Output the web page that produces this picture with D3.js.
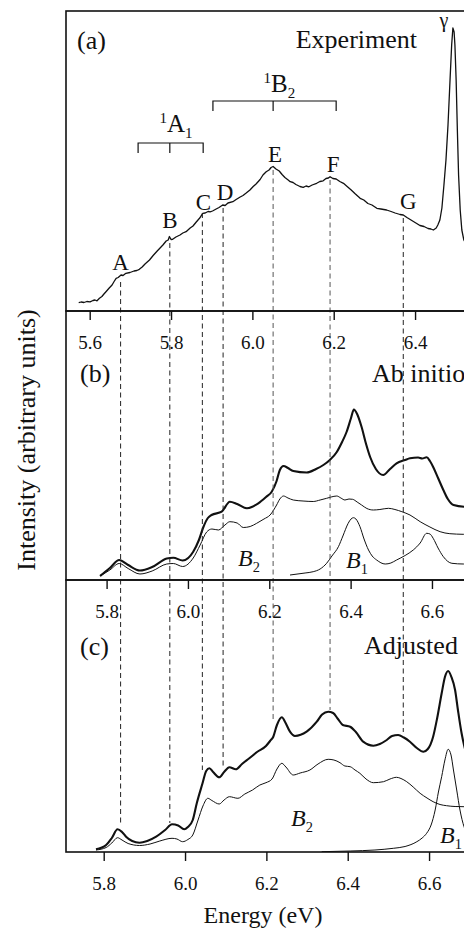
<!DOCTYPE html>
<html>
<head>
<meta charset="utf-8">
<script src="https://cdnjs.cloudflare.com/ajax/libs/d3/7.8.5/d3.min.js"></script>
<style>
  body { margin: 0; background: #fff; }
  svg { display: block; }
  svg text { font-family: "Liberation Serif", "Times New Roman", "DejaVu Serif", serif; }
</style>
</head>
<body>
<div id="chart"></div>
<script>
// ---- data (energy in eV, intensity in arbitrary units) ----

// (a) experiment
var expSpectrum = [
  [5.573,0.083],[5.579,0.090],[5.586,0.085],[5.593,0.095],[5.601,0.092],[5.608,0.105],[5.613,0.110],[5.618,0.102],
  [5.624,0.127],[5.630,0.145],[5.635,0.170],[5.640,0.193],[5.648,0.230],[5.655,0.260],[5.660,0.295],[5.665,0.327],
  [5.670,0.335],[5.677,0.360],[5.682,0.355],[5.689,0.377],[5.699,0.385],[5.709,0.400],[5.716,0.405],[5.722,0.417],
  [5.729,0.440],[5.736,0.470],[5.747,0.510],[5.756,0.555],[5.766,0.600],[5.773,0.630],[5.780,0.660],[5.788,0.700],
  [5.793,0.710],[5.796,0.745],[5.800,0.715],[5.804,0.717],[5.812,0.740],[5.822,0.760],[5.829,0.780],[5.837,0.793],
  [5.847,0.830],[5.854,0.850],[5.861,0.885],[5.870,0.927],[5.878,0.977],[5.884,0.980],[5.891,0.995],[5.896,0.992],
  [5.902,1.000],[5.911,1.020],[5.918,1.035],[5.927,1.060],[5.933,1.055],[5.940,1.080],[5.952,1.093],[5.960,1.115],
  [5.970,1.140],[5.977,1.155],[5.984,1.177],[5.994,1.210],[6.002,1.245],[6.009,1.270],[6.019,1.315],[6.026,1.360],
  [6.034,1.393],[6.041,1.410],[6.046,1.435],[6.051,1.445],[6.058,1.420],[6.066,1.400],[6.073,1.365],[6.080,1.335],
  [6.088,1.310],[6.093,1.293],[6.100,1.285],[6.107,1.265],[6.117,1.245],[6.125,1.237],[6.132,1.250],[6.139,1.242],
  [6.147,1.260],[6.158,1.277],[6.166,1.295],[6.174,1.302],[6.181,1.325],[6.187,1.330],[6.191,1.343],[6.198,1.325],
  [6.206,1.320],[6.215,1.295],[6.224,1.277],[6.233,1.245],[6.243,1.210],[6.252,1.175],[6.265,1.127],[6.274,1.110],
  [6.284,1.075],[6.294,1.060],[6.306,1.027],[6.316,1.020],[6.330,1.010],[6.341,0.995],[6.351,0.980],[6.363,0.965],
  [6.371,0.960],[6.380,0.935],[6.390,0.910],[6.400,0.885],[6.412,0.855],[6.422,0.845],[6.432,0.825],[6.439,0.820],
  [6.445,0.810],[6.452,0.830],[6.456,0.860],[6.461,0.910],[6.466,1.030],[6.471,1.260],[6.476,1.510],[6.481,1.860],
  [6.486,2.310],[6.490,2.660],[6.493,2.830],[6.496,2.790],[6.498,2.660],[6.501,2.310],[6.504,1.810],[6.507,1.360],
  [6.511,1.010],[6.515,0.810],[6.520,0.710],[6.528,0.650]
];

// (b) ab initio: total, B2 and B1 components
var abTotal = [
  [5.784,0.04],[5.808,0.12],[5.831,0.20],[5.853,0.15],[5.882,0.095],[5.912,0.13],[5.948,0.215],[5.964,0.223],
  [5.987,0.195],[6.013,0.283],[6.027,0.40],[6.038,0.53],[6.049,0.62],[6.058,0.65],[6.083,0.683],[6.103,0.783],
  [6.121,0.76],[6.145,0.717],[6.173,0.767],[6.192,0.83],[6.206,0.883],[6.218,0.99],[6.226,1.10],[6.235,1.14],
  [6.246,1.12],[6.259,1.09],[6.292,1.075],[6.315,1.11],[6.333,1.15],[6.349,1.20],[6.366,1.28],[6.379,1.38],
  [6.390,1.48],[6.401,1.62],[6.408,1.705],[6.416,1.66],[6.427,1.53],[6.438,1.36],[6.448,1.23],[6.462,1.11],
  [6.480,1.05],[6.497,1.11],[6.513,1.167],[6.534,1.20],[6.546,1.217],[6.566,1.225],[6.576,1.215],[6.587,1.227],
  [6.595,1.19],[6.603,1.13],[6.615,1.02],[6.628,0.90],[6.639,0.81],[6.653,0.75],[6.679,0.733],[6.718,0.73]
];
var abB2 = [
  [5.784,0.04],[5.808,0.10],[5.831,0.165],[5.853,0.115],[5.882,0.06],[5.912,0.09],[5.948,0.16],[5.964,0.165],
  [5.987,0.135],[6.013,0.22],[6.030,0.35],[6.046,0.48],[6.059,0.51],[6.075,0.50],[6.091,0.55],[6.103,0.583],
  [6.121,0.57],[6.136,0.525],[6.153,0.535],[6.169,0.567],[6.187,0.61],[6.202,0.65],[6.218,0.75],[6.226,0.81],
  [6.235,0.84],[6.246,0.82],[6.259,0.80],[6.283,0.79],[6.308,0.785],[6.325,0.80],[6.341,0.817],[6.352,0.83],
  [6.366,0.84],[6.376,0.82],[6.386,0.80],[6.396,0.81],[6.405,0.807],[6.416,0.78],[6.427,0.75],[6.440,0.715],
  [6.456,0.70],[6.472,0.705],[6.493,0.717],[6.509,0.705],[6.526,0.683],[6.546,0.65],[6.571,0.583],[6.595,0.53],
  [6.620,0.483],[6.644,0.463],[6.677,0.457],[6.718,0.455]
];
var abB1 = [
  [6.251,0.05],[6.288,0.07],[6.308,0.083],[6.325,0.11],[6.341,0.167],[6.354,0.24],[6.370,0.333],[6.381,0.44],
  [6.394,0.567],[6.401,0.61],[6.407,0.623],[6.413,0.61],[6.423,0.533],[6.433,0.41],[6.444,0.30],[6.453,0.24],
  [6.464,0.20],[6.485,0.16],[6.499,0.17],[6.513,0.20],[6.534,0.245],[6.554,0.30],[6.571,0.37],[6.587,0.467],
  [6.595,0.46],[6.603,0.417],[6.615,0.32],[6.628,0.233],[6.649,0.167],[6.677,0.16],[6.718,0.16]
];

// (c) adjusted: total, B2 and B1 components
var adjTotal = [
  [5.781,0.027],[5.806,0.07],[5.820,0.14],[5.834,0.227],[5.845,0.20],[5.855,0.153],[5.870,0.11],[5.888,0.093],
  [5.907,0.11],[5.929,0.153],[5.951,0.22],[5.968,0.277],[5.983,0.265],[5.998,0.227],[6.007,0.25],[6.019,0.32],
  [6.029,0.49],[6.043,0.687],[6.052,0.81],[6.060,0.837],[6.069,0.80],[6.084,0.747],[6.096,0.80],[6.109,0.847],
  [6.125,0.827],[6.140,0.88],[6.158,0.937],[6.177,1.00],[6.199,1.06],[6.209,1.11],[6.217,1.153],[6.226,1.27],
  [6.238,1.347],[6.246,1.30],[6.258,1.203],[6.270,1.16],[6.299,1.203],[6.324,1.303],[6.337,1.375],[6.352,1.403],
  [6.364,1.39],[6.376,1.33],[6.388,1.27],[6.406,1.253],[6.420,1.20],[6.438,1.103],[6.463,1.063],[6.479,1.08],
  [6.496,1.12],[6.509,1.16],[6.524,1.17],[6.538,1.145],[6.553,1.103],[6.570,1.04],[6.586,1.003],[6.597,1.03],
  [6.610,1.153],[6.620,1.34],[6.631,1.587],[6.639,1.75],[6.647,1.81],[6.655,1.75],[6.664,1.62],[6.671,1.42],
  [6.680,1.187],[6.686,1.07],[6.701,0.87]
];
var adjB2 = [
  [5.781,0.02],[5.806,0.045],[5.820,0.09],[5.834,0.143],[5.845,0.12],[5.860,0.085],[5.888,0.065],[5.914,0.08],
  [5.938,0.11],[5.968,0.137],[5.980,0.13],[5.994,0.103],[6.007,0.125],[6.019,0.17],[6.032,0.32],[6.044,0.46],
  [6.056,0.537],[6.066,0.515],[6.084,0.48],[6.096,0.52],[6.109,0.553],[6.130,0.537],[6.147,0.58],[6.166,0.62],
  [6.184,0.67],[6.199,0.693],[6.214,0.73],[6.226,0.83],[6.238,0.887],[6.248,0.85],[6.266,0.77],[6.283,0.79],
  [6.307,0.82],[6.327,0.88],[6.352,0.927],[6.366,0.92],[6.381,0.893],[6.393,0.86],[6.406,0.853],[6.418,0.82],
  [6.430,0.787],[6.445,0.73],[6.463,0.693],[6.488,0.703],[6.504,0.73],[6.520,0.747],[6.531,0.735],[6.545,0.703],
  [6.561,0.65],[6.578,0.587],[6.595,0.54],[6.610,0.503],[6.627,0.475],[6.643,0.463],[6.664,0.455],[6.686,0.453],
  [6.701,0.452]
];
var adjB1 = [
  [6.336,0.003],[6.406,0.01],[6.467,0.02],[6.512,0.037],[6.541,0.055],[6.570,0.103],[6.583,0.14],[6.594,0.187],
  [6.605,0.27],[6.615,0.42],[6.623,0.60],[6.631,0.753],[6.639,0.92],[6.647,1.027],[6.654,0.97],[6.660,0.82],
  [6.668,0.62],[6.676,0.42],[6.686,0.253],[6.701,0.16]
];

// peak markers A-G: energy (panel a scale), top of dashed line in (a), bottom of dashed line in (c)
var markNames  = ["A", "B", "C", "D", "E", "F", "G"];
var markEnergy = [5.676, 5.797, 5.877, 5.928, 6.051, 6.191, 6.371];
var markTop    = [0.29, 0.68, 0.98, 1.03, 1.41, 1.31, 0.93];
var markBottom = [0.26, 0.29, 0.82, 0.85, 1.30, 1.42, 1.20];
var markLabelI = [0.41, 0.83, 1.01, 1.11, 1.49, 1.39, 1.02];

// state brackets in (a): [left, centre, right] energies and level
var bracketA1 = [5.719, 5.797, 5.879];
var bracketB2 = [5.903, 6.051, 6.206];
var bracketLevel = [1.68, 2.10];

var ticksA = [5.6, 5.8, 6.0, 6.2, 6.4];
var ticksBC = [5.8, 6.0, 6.2, 6.4, 6.6];

// ---- layout ----
var svgWidth = 464;
var svgHeight = 931;
var boxLeft = 66;
var boxRight = 486;
var pxPerEv = 406.7;

var panels = [
  { id: "a", top: 11,  bottom: 311, e0: 5.6, x0: 89.7,  yMax: 3.00, ticks: ticksA },
  { id: "b", top: 311, bottom: 580, e0: 5.8, x0: 106.6, yMax: 2.69, ticks: ticksBC },
  { id: "c", top: 580, bottom: 852, e0: 5.8, x0: 103.7, yMax: 2.72, ticks: ticksBC }
];
panels.forEach(function(p) {
  p.x = d3.scaleLinear().domain([p.e0, p.e0 + 1]).range([p.x0, p.x0 + pxPerEv]);
  p.y = d3.scaleLinear().domain([0, p.yMax]).range([p.bottom, p.top]);
});
var pa = panels[0], pb = panels[1], pc = panels[2];

var svg = d3.select("#chart")
  .append("svg")
  .attr("width", svgWidth)
  .attr("height", svgHeight)
  .style("background", "#fff");

var defs = svg.append("defs");
panels.forEach(function(p) {
  defs.append("clipPath").attr("id", "clip-" + p.id)
    .append("rect")
    .attr("x", boxLeft).attr("y", p.top)
    .attr("width", boxRight - boxLeft).attr("height", p.bottom - p.top);
});

function drawCurve(p, data, width, smooth) {
  var line = d3.line()
    .x(function(d) { return p.x(d[0]); })
    .y(function(d) { return p.y(d[1]); })
    .curve(smooth ? d3.curveMonotoneX : d3.curveLinear);
  svg.append("path")
    .datum(data)
    .attr("clip-path", "url(#clip-" + p.id + ")")
    .attr("fill", "none")
    .attr("stroke", "#111")
    .attr("stroke-width", width)
    .attr("stroke-linejoin", "round")
    .attr("d", line);
}

// curves
drawCurve(pa, expSpectrum, 1.3, false);
drawCurve(pb, abB2, 1, true);
drawCurve(pb, abB1, 1, true);
drawCurve(pb, abTotal, 2.1, true);
drawCurve(pc, adjB2, 1, true);
drawCurve(pc, adjB1, 1, true);
drawCurve(pc, adjTotal, 2.1, true);

// dashed guide lines through all three panels
markEnergy.forEach(function(e, i) {
  svg.append("line")
    .attr("x1", pa.x(e)).attr("x2", pa.x(e))
    .attr("y1", pa.y(markTop[i]))
    .attr("y2", pc.y(markBottom[i]))
    .attr("stroke", i === 4 || i === 5 ? "#555" : "#222")
    .attr("stroke-width", 1)
    .attr("stroke-dasharray", "5,3.5");
});

// panel boxes
panels.forEach(function(p) {
  svg.append("rect")
    .attr("x", boxLeft).attr("y", p.top)
    .attr("width", boxRight - boxLeft).attr("height", p.bottom - p.top)
    .attr("fill", "none")
    .attr("stroke", "#111")
    .attr("stroke-width", 1.6);
});

// x axes
panels.forEach(function(p) {
  var axis = d3.axisBottom(p.x)
    .tickValues(p.ticks)
    .tickSize(9)
    .tickPadding(16)
    .tickFormat(d3.format(".1f"));
  var g = svg.append("g")
    .attr("transform", `translate(0, ${p.bottom})`)
    .call(axis);
  g.select(".domain").remove();
  g.attr("font-family", null).attr("font-size", 19);
  g.selectAll("line").attr("stroke", "#111").attr("stroke-width", 1.4);
  g.selectAll("text").attr("fill", "#111");
});

function label(x, y, txt, size, anchor, style) {
  return svg.append("text")
    .attr("x", x).attr("y", y)
    .attr("font-size", size)
    .attr("font-style", style || "normal")
    .attr("text-anchor", anchor || "start")
    .attr("fill", "#111")
    .text(txt);
}

// panel titles
label(77, 49, "(a)", 26);
label(417, 48, "Experiment", 26, "end");
label(80, 382, "(b)", 26);
label(372, 382, "Ab initio", 26);
label(80, 655, "(c)", 26);
label(364, 654, "Adjusted", 26);

// peak letters
var markDx = [0, 0, 1, 2, 2, 3, 5];
markNames.forEach(function(n, i) {
  label(pa.x(markEnergy[i]) + markDx[i], pa.y(markLabelI[i]), n, 23, "middle");
});
label(444, 27, "γ", 20, "middle");

// brackets
[bracketA1, bracketB2].forEach(function(b, i) {
  var yb = pa.y(bracketLevel[i]);
  var path = d3.path();
  path.moveTo(pa.x(b[0]), yb + 10);
  path.lineTo(pa.x(b[0]), yb);
  path.lineTo(pa.x(b[2]), yb);
  path.lineTo(pa.x(b[2]), yb + 10);
  path.moveTo(pa.x(b[1]), yb);
  path.lineTo(pa.x(b[1]), yb + 10);
  svg.append("path")
    .attr("d", path.toString())
    .attr("fill", "none")
    .attr("stroke", "#111")
    .attr("stroke-width", 1.2);
});

function stateLabel(x, y, sup, main, sub, size, style) {
  var t = svg.append("text")
    .attr("x", x).attr("y", y)
    .attr("fill", "#111");
  if (sup) {
    t.append("tspan").attr("font-size", size * 0.6).attr("dy", -size * 0.36).text(sup);
    t.append("tspan").attr("font-size", size).attr("dy", size * 0.36)
      .attr("font-style", style || "normal").text(main);
  } else {
    t.append("tspan").attr("font-size", size).attr("font-style", style || "normal").text(main);
  }
  t.append("tspan").attr("font-size", size * 0.6).attr("dy", size * 0.24).text(sub);
}

stateLabel(159.5, 131.5, "1", "A", "1", 25);
stateLabel(263.5, 91.5, "1", "B", "2", 25);
stateLabel(238, 566, null, "B", "2", 24, "italic");
stateLabel(346, 568, null, "B", "1", 24, "italic");
stateLabel(291, 826, null, "B", "2", 24, "italic");
stateLabel(440, 843, null, "B", "1", 24, "italic");

// axis titles
label(263, 923, "Energy (eV)", 24, "middle");
svg.append("text")
  .attr("transform", "translate(35, 440) rotate(-90)")
  .attr("font-size", 26)
  .attr("text-anchor", "middle")
  .attr("fill", "#111")
  .text("Intensity (arbitrary units)");
</script>
</body>
</html>
